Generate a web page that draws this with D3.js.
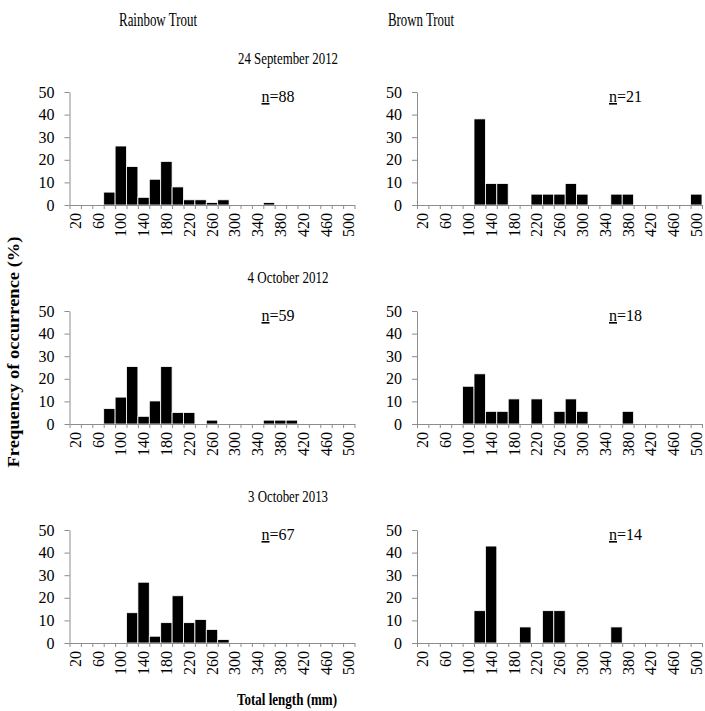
<!DOCTYPE html>
<html>
<head>
<meta charset="utf-8">
<script src="https://cdn.jsdelivr.net/npm/d3@7"></script>
<style>
  body { margin: 0; background: #fff; }
  text { font-family: "Liberation Serif", "Times New Roman", serif; fill: #000; }
</style>
</head>
<body>
<script>
  // length classes (mm), one bar each
  const lengthBins = [20, 40, 60, 80, 100, 120, 140, 160, 180, 200, 220, 240, 260,
    280, 300, 320, 340, 360, 380, 400, 420, 440, 460, 480, 500];
  const tickLabels = [20, 60, 100, 140, 180, 220, 260, 300, 340, 380, 420, 460, 500];
  const yTicks = [0, 10, 20, 30, 40, 50];

  const species = ['Rainbow Trout', 'Brown Trout'];
  const sampleDates = ['24 September 2012', '4 October 2012', '3 October 2013'];
  const sampleSizes = [[88, 21], [59, 18], [67, 14]];

  // frequency of occurrence (%) per length class
  const rainbowSep2012 = [0, 0, 0, 5.7, 26.1, 17.0, 3.4, 11.4, 19.3, 8.0, 2.3, 2.3, 1.1,
    2.3, 0, 0, 0, 1.1, 0, 0, 0, 0, 0, 0, 0];
  const brownSep2012 = [0, 0, 0, 0, 0, 38.1, 9.5, 9.5, 0, 0, 4.8, 4.8, 4.8,
    9.5, 4.8, 0, 0, 4.8, 4.8, 0, 0, 0, 0, 0, 4.8];
  const rainbowOct2012 = [0, 0, 0, 6.8, 11.9, 25.4, 3.4, 10.2, 25.4, 5.1, 5.1, 0, 1.7,
    0, 0, 0, 0, 1.7, 1.7, 1.7, 0, 0, 0, 0, 0];
  const brownOct2012 = [0, 0, 0, 0, 16.7, 22.2, 5.6, 5.6, 11.1, 0, 11.1, 0, 5.6,
    11.1, 5.6, 0, 0, 0, 5.6, 0, 0, 0, 0, 0, 0];
  const rainbowOct2013 = [0, 0, 0, 0, 0, 13.4, 26.9, 3.0, 9.0, 20.9, 9.0, 10.4, 6.0,
    1.5, 0, 0, 0, 0, 0, 0, 0, 0, 0, 0, 0];
  const brownOct2013 = [0, 0, 0, 0, 0, 14.3, 42.9, 0, 0, 7.1, 0, 14.3, 14.3,
    0, 0, 0, 0, 7.1, 0, 0, 0, 0, 0, 0, 0];

  const panelValues = [
    [rainbowSep2012, brownSep2012],
    [rainbowOct2012, brownOct2012],
    [rainbowOct2013, brownOct2013]
  ];

  const W = 705, H = 711;
  const pw = 285, ph = 113;
  const colX = [69.5, 417];
  const rowBase = [205, 424, 643];
  const axisGrey = '#8c8c8c';

  const svg = d3.select('body').append('svg')
    .attr('width', W)
    .attr('height', H);

  const x = d3.scaleBand().domain(lengthBins).range([0, pw]).padding(0);
  const xEdges = d3.scaleLinear().domain([0, lengthBins.length]).range([0, pw]);
  const y = d3.scaleLinear().domain([0, 50]).range([ph, 0]);

  // column headers (the source font is a narrow serif, squeeze to fit)
  svg.selectAll('text.species')
    .data(species)
    .enter().append('text')
      .attr('class', 'species')
      .attr('x', (d, i) => [158, 421][i])
      .attr('y', 26)
      .attr('text-anchor', 'middle')
      .attr('font-size', 18)
      .attr('textLength', (d, i) => [78, 66][i])
      .attr('lengthAdjust', 'spacingAndGlyphs')
      .text(d => d);

  sampleDates.forEach((date, r) => {
    svg.append('text')
      .attr('x', 288)
      .attr('y', rowBase[r] - 141)
      .attr('text-anchor', 'middle')
      .attr('font-size', 17)
      .attr('textLength', [100, 81, 80][r])
      .attr('lengthAdjust', 'spacingAndGlyphs')
      .text(date);

    species.forEach((sp, c) => {
      const vals = panelValues[r][c];
      const g = svg.append('g')
        .attr('transform', `translate(${colX[c]}, ${rowBase[r] - ph})`);

      g.selectAll('rect')
        .data(vals.map((v, i) => ({ bin: lengthBins[i], v })).filter(d => d.v > 0))
        .enter().append('rect')
          .attr('x', d => x(d.bin))
          .attr('y', d => y(d.v))
          .attr('width', x.bandwidth())
          .attr('height', d => ph - y(d.v))
          .attr('fill', '#000')
          .attr('stroke', '#fff')
          .attr('stroke-width', 0.8);

      // y axis
      const ya = g.append('g')
        .call(d3.axisLeft(y).tickValues(yTicks).tickSize(5).tickSizeOuter(0).tickPadding(10));
      ya.select('.domain').attr('stroke', axisGrey);
      ya.selectAll('line').attr('stroke', axisGrey);
      ya.selectAll('text')
        .attr('font-size', 16)
        .style('font-family', '"Liberation Serif", serif');

      // x tick marks at bin edges
      const xt = g.append('g')
        .attr('transform', `translate(0, ${ph})`)
        .call(d3.axisBottom(xEdges).tickValues(d3.range(lengthBins.length + 1))
          .tickSize(4).tickSizeOuter(0).tickFormat(''));
      xt.select('.domain').attr('stroke', axisGrey);
      xt.selectAll('line').attr('stroke', axisGrey);

      // x labels, every other class
      const xl = g.append('g')
        .attr('transform', `translate(0, ${ph})`)
        .call(d3.axisBottom(x).tickValues(tickLabels).tickSize(0).tickPadding(0));
      xl.select('.domain').remove();
      xl.selectAll('text')
        .attr('transform', 'rotate(-90)')
        .attr('x', -8)
        .attr('y', 0)
        .attr('dy', '0.35em')
        .attr('text-anchor', 'end')
        .attr('font-size', 16)
        .style('font-family', '"Liberation Serif", serif');

      const nLab = g.append('text')
        .attr('x', 192)
        .attr('y', 10)
        .attr('font-size', 16);
      nLab.append('tspan').attr('text-decoration', 'underline').text('n');
      nLab.append('tspan').text('=' + sampleSizes[r][c]);
    });
  });

  svg.append('text')
    .attr('transform', `translate(19, 352) rotate(-90)`)
    .attr('text-anchor', 'middle')
    .attr('font-size', 16)
    .attr('font-weight', 'bold')
    .attr('textLength', 231)
    .attr('lengthAdjust', 'spacingAndGlyphs')
    .text('Frequency  of  occurrence  (%)');

  svg.append('text')
    .attr('x', 287)
    .attr('y', 705)
    .attr('text-anchor', 'middle')
    .attr('font-size', 16)
    .attr('font-weight', 'bold')
    .attr('textLength', 100)
    .attr('lengthAdjust', 'spacingAndGlyphs')
    .text('Total length (mm)');
</script>
</body>
</html>
